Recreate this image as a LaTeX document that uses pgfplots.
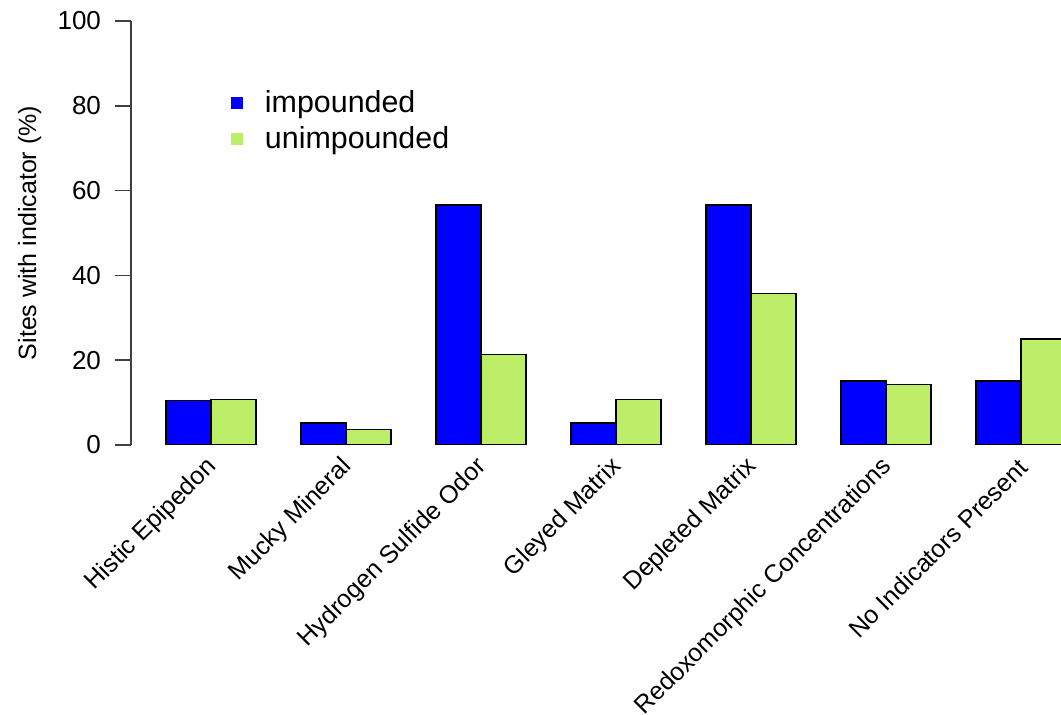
\documentclass[border=0pt]{standalone}
\usepackage{pgfplots}
\pgfplotsset{compat=1.18}
\usepackage{fontspec}
\setmainfont{Liberation Sans}
\definecolor{impblue}{HTML}{0000FF}
\definecolor{unimpgreen}{HTML}{BCEE68}
\definecolor{axisgray}{HTML}{404040}

\begin{document}
\begin{tikzpicture}
\useasboundingbox (0,0) rectangle (530.5pt,357.5pt);
\begin{axis}[
  at={(65.5pt,135pt)}, anchor=south west,
  scale only axis, width=465pt, height=212pt,
  xmin=-0.5926, xmax=6.2963, ymin=0, ymax=100,
  ybar=0pt, bar width=22.5pt,
  axis y line=left, axis x line*=bottom,
  x axis line style={draw=none},
  y axis line style={-, draw=axisgray, line width=0.8pt},
  ytick={0,20,...,100},
  ytick style={draw=axisgray, line width=0.8pt},
  xtick={0,...,6},
  xtick style={draw=none},
  xticklabels={Histic Epipedon, Mucky Mineral, Hydrogen Sulfide Odor, Gleyed Matrix, Depleted Matrix, Redoxomorphic Concentrations, No Indicators Present},
  tick align=outside, major tick length=8pt,
  /pgf/number format/assume math mode=true,
  yticklabel style={font=\fontsize{13}{15}\selectfont, anchor=east, xshift=-3.5pt},
  xticklabel style={font=\fontsize{12.5}{15}\selectfont, rotate=45, anchor=east, inner sep=0pt, yshift=-1.5pt},
  ylabel={Sites with indicator (\%)},
  ylabel style={font=\fontsize{12.5}{15}\selectfont, at={(axis description cs:-0.109,0.5)}, anchor=center},
  legend style={draw=none, fill=none, inner sep=0pt, at={(axis description cs:0.1075,0.847)}, anchor=north west,
    font=\fontsize{15.2}{18}\selectfont, row sep=1.5pt},
  legend cell align=left,
  legend image code/.code={\fill[#1, draw=none] (0pt,-3pt) rectangle (6pt,3pt); \path (14.5pt,0pt);},
]
\addplot[fill=impblue, draw=black, line width=0.6pt] coordinates {
  (0,10.4) (1,5.2) (2,56.6) (3,5.2) (4,56.6) (5,15.1) (6,15.1)};
\addplot[fill=unimpgreen, draw=black, line width=0.6pt] coordinates {
  (0,10.7) (1,3.6) (2,21.4) (3,10.7) (4,35.7) (5,14.3) (6,25.0)};
\legend{impounded, unimpounded}
\end{axis}
\end{tikzpicture}
\end{document}
